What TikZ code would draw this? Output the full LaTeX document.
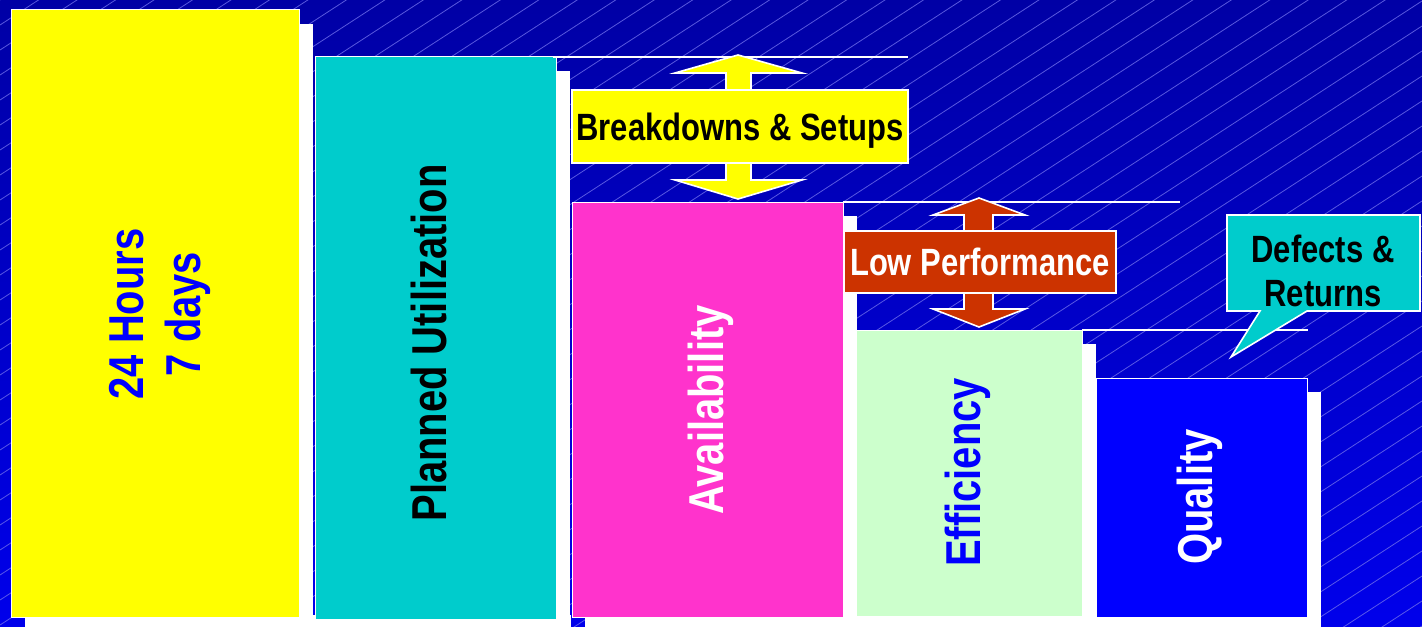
\documentclass[tikz,border=0pt]{standalone}
\usepackage{fontspec}
\newfontfamily\lblfont[FakeStretch=0.815]{Liberation Sans}

\definecolor{bgtop}{RGB}{0,0,165}
\definecolor{bgbot}{RGB}{0,0,235}
\definecolor{hatchblue}{RGB}{110,110,235}
\definecolor{barYellow}{RGB}{255,255,0}
\definecolor{barCyan}{RGB}{0,204,204}
\definecolor{barPink}{RGB}{255,51,204}
\definecolor{barGreen}{RGB}{204,255,204}
\definecolor{barBlue}{RGB}{0,0,255}
\definecolor{lossRed}{RGB}{204,51,0}

\begin{document}
\begin{tikzpicture}[x=0.5pt, y=-0.5pt,
	bar/.style={draw=white, line width=0.5pt},
	guide/.style={draw=white, line width=1pt},
	hatch/.style={draw=hatchblue, line width=0.4pt, opacity=0.8},
	arrowbody/.style={draw=white, line width=0.8pt},
	tag/.style={font=\lblfont\bfseries\fontsize{19}{22}\selectfont, inner sep=0pt, text depth=0pt, align=center},
	bigtag/.style={font=\lblfont\bfseries\fontsize{24.5}{28.5}\selectfont, inner sep=0pt, text depth=0pt, align=center, rotate=90}]
	% Define the variables
	\def\W{1422}
	\def\H{626}
	\def\off{14}
	
	% Background
	\useasboundingbox (0,0) rectangle (\W,\H);
	\clip (0,0) rectangle (\W,\H);
	\fill[top color=bgtop, bottom color=bgbot] (0,0) rectangle (\W,\H);
	\foreach \c in {0,25,...,1575}
	\draw[hatch] (0,\c) -- (\W,{\c-924});
	
	% Bars with their shadows
	\fill[white] (25,615) rectangle (571,640);
	\fill[white] (585,615) rectangle (1321,640);
	\foreach \xa/\ya/\xb/\yb/\col in {11/10/299/617/barYellow, 315/57/556/619/barCyan, 572/202/843/617/barPink, 856/330/1082/616/barGreen, 1096/378/1307/617/barBlue}{
		\fill[white] ({\xa+\off},{\ya+\off}) rectangle ({\xb+\off},640);
		\draw[bar, fill=\col] (\xa,\ya) rectangle (\xb,\yb);
	}
	
	% Levels
	\draw[guide] (553,57) -- (908,57);
	\draw[guide] (843,202) -- (1180,202);
	\draw[guide] (1082,330) -- (1308,330);
	
	% Losses
	\draw[arrowbody, fill=barYellow] (738,55) -- (802,73) -- (751,73) -- (751,180) -- (802,180) -- (738,199) -- (675,180) -- (726,180) -- (726,73) -- (675,73) -- cycle;
	\draw[arrowbody, fill=barYellow] (572,90) rectangle (908,163);
	\node[tag] (breakdowns) at (740,126.5) {Breakdowns \& Setups};
	
	\draw[arrowbody, fill=lossRed] (979,198) -- (1025,215) -- (993,215) -- (993,309) -- (1025,309) -- (979,327) -- (933,309) -- (964,309) -- (964,215) -- (933,215) -- cycle;
	\draw[arrowbody, fill=lossRed] (844,231) rectangle (1116,293);
	\node[tag, text=white] (lowperf) at (980,262) {Low Performance};
	
	\draw[arrowbody, fill=barCyan] (1227,215) -- (1420,215) -- (1420,311) -- (1307,311) -- (1231,357) -- (1260,311) -- (1227,311) -- cycle;
	\node[tag] (defects) at (1323,271) {Defects \&\\Returns};
	
	% Bar labels
	\node[bigtag, text=barBlue] (hours) at (155,314) {24 Hours\\7 days};
	\node[bigtag] (planned) at (428.5,343) {Planned Utilization};
	\node[bigtag, text=white] (availability) at (705.5,410) {Availability};
	\node[bigtag, text=barBlue] (efficiency) at (962.5,472.5) {Efficiency};
	\node[bigtag, text=white] (quality) at (1195,497) {Quality};
\end{tikzpicture}
\end{document}
